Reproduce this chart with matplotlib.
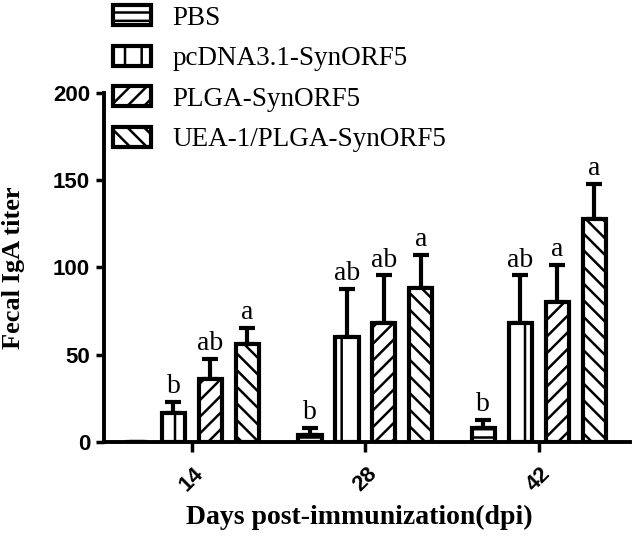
import matplotlib
matplotlib.use("Agg")
import matplotlib.pyplot as plt
import numpy as np
from matplotlib.patches import Patch

# data
days = ["14", "28", "42"]
groups = ["PBS", "pcDNA3.1-SynORF5", "PLGA-SynORF5", "UEA-1/PLGA-SynORF5"]
pbs = [0, 4, 8]
pcdna = [16.5, 60, 68]
plga = [36, 68, 80]
uea = [56, 88.5, 128]
pbs_err = [0, 4, 4.6]
pcdna_err = [6.5, 27.5, 27.5]
plga_err = [11.5, 27.5, 21.5]
uea_err = [9.5, 18.5, 20]
pbs_sig = ["", "b", "b"]
pcdna_sig = ["b", "ab", "ab"]
plga_sig = ["ab", "ab", "a"]
uea_sig = ["a", "a", "a"]

hatches = ["--", "|", "//", "\\\\"]

plt.rcParams['hatch.linewidth'] = 1.8
serif = "Liberation Serif"
sans = "Liberation Sans"

fig = plt.figure(figsize=(6.38, 5.43), dpi=100)
ax = fig.add_axes([0.163, 0.186, 0.824, 0.643])

x = np.arange(len(days))
w = 0.134
pitch = 0.213
values = [pbs, pcdna, plga, uea]
errs = [pbs_err, pcdna_err, plga_err, uea_err]
sigs = [pbs_sig, pcdna_sig, plga_sig, uea_sig]

for i in range(len(groups)):
    pos = x + (i - 1.5) * pitch
    ax.bar(pos, values[i], width=w, color="white", edgecolor="black",
           linewidth=3, hatch=hatches[i], zorder=2)
    lower = [0] * len(days)
    ax.errorbar(pos, values[i], yerr=[lower, errs[i]], fmt="none",
                ecolor="black", elinewidth=3, capsize=6, capthick=3, zorder=1)
    for j in range(len(days)):
        if sigs[i][j]:
            ax.annotate(sigs[i][j], (pos[j], values[i][j] + errs[i][j]),
                        textcoords="offset points", xytext=(0, 2),
                        ha="center", va="bottom", fontsize=20, family=serif)

ax.set_xlim(-0.507, 2.524)
ax.set_ylim(0, 200)
ax.set_yticks([0, 50, 100, 150, 200])
ax.set_xticks(x)
ax.set_xticklabels(days, rotation=45, ha="center", fontsize=16,
                   fontweight="bold", family=sans)
for lab in ax.get_yticklabels():
    lab.set_fontsize(16)
    lab.set_fontweight("bold")
    lab.set_family(sans)
ax.tick_params(axis="y", length=6, width=2.5, pad=4)
ax.tick_params(axis="x", length=7, width=2.5, pad=8)

for s in ["top", "right"]:
    ax.spines[s].set_visible(False)
for s in ["left", "bottom"]:
    ax.spines[s].set_linewidth(2.8)

ax.set_ylabel("Fecal IgA titer", fontsize=19, fontweight="bold", family=serif)
ax.yaxis.set_label_coords(-0.15, 0.5)
ax.set_xlabel("Days post-immunization(dpi)", fontsize=20, fontweight="bold",
              family=serif)
ax.xaxis.set_label_coords(0.485, -0.18)

handles = [Patch(facecolor="white", edgecolor="black", linewidth=3,
                 hatch=hatches[i], label=groups[i]) for i in range(len(groups))]
fig.legend(handles=handles, loc="upper left", bbox_to_anchor=(0.16, 1.01),
           frameon=False, prop={"family": serif, "size": 19.5},
           handlelength=1.4, handleheight=0.75, handletextpad=0.8,
           labelspacing=0.56, borderaxespad=0)

fig.savefig("out.png", dpi=100)
